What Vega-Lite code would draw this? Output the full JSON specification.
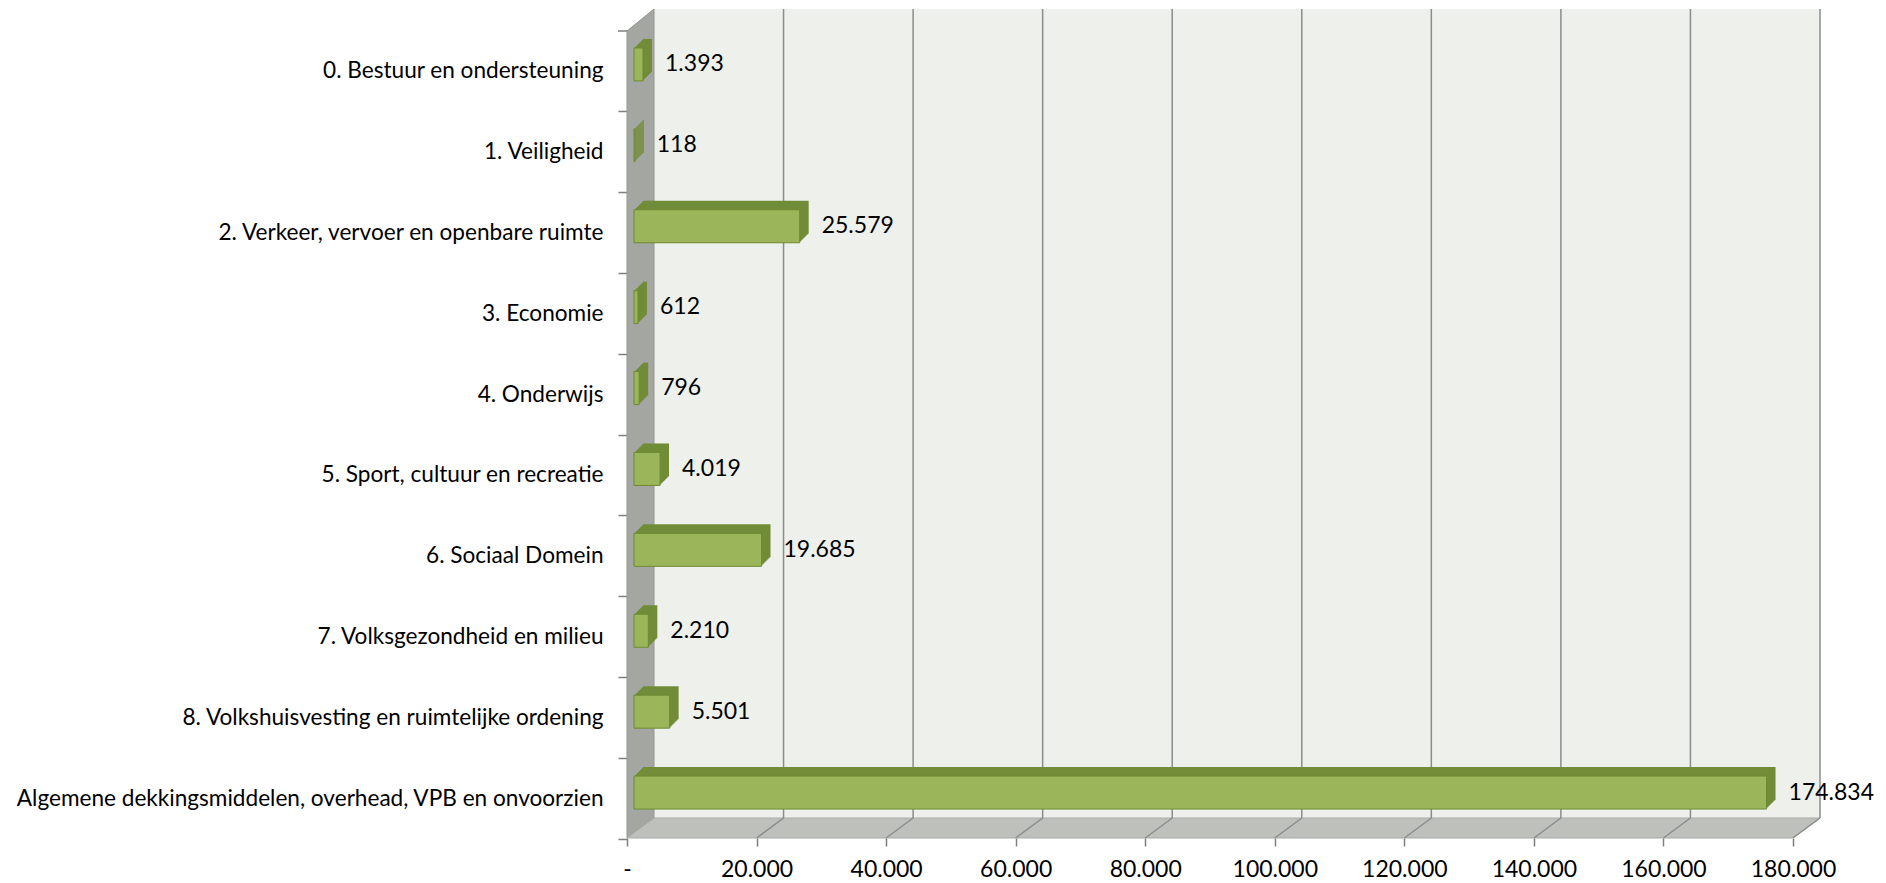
{
  "$schema": "https://vega.github.io/schema/vega-lite/v6.json",
  "width": 1166,
  "height": 809,
  "autosize": "none",
  "padding": {"left": 654, "top": 9, "right": 66, "bottom": 65},
  "background": "white",
  "config": {
    "locale": {"number": {"decimal": ",", "thousands": ".", "grouping": [3], "currency": ["€", ""]}},
    "view": {"fill": "#EEF1EB", "stroke": null},
    "font": "Lato",
    "axis": {"labelFont": "Lato", "labelColor": "#000000", "domain": false, "grid": false, "tickColor": "#7F7F7F", "tickWidth": 1.5}
  },
  "datasets": {
    "main": [
      {"cat": "0. Bestuur en ondersteuning", "value": 1393},
      {"cat": "1. Veiligheid", "value": 118},
      {"cat": "2. Verkeer, vervoer en openbare ruimte", "value": 25579},
      {"cat": "3. Economie", "value": 612},
      {"cat": "4. Onderwijs", "value": 796},
      {"cat": "5. Sport, cultuur en recreatie", "value": 4019},
      {"cat": "6. Sociaal Domein", "value": 19685},
      {"cat": "7. Volksgezondheid en milieu", "value": 2210},
      {"cat": "8. Volkshuisvesting en ruimtelijke ordening", "value": 5501},
      {"cat": "Algemene dekkingsmiddelen, overhead, VPB en onvoorzien", "value": 174834}
    ],
    "ticks": [
      {"v": 20000}, {"v": 40000}, {"v": 60000}, {"v": 80000}, {"v": 100000},
      {"v": 120000}, {"v": 140000}, {"v": 160000}, {"v": 180000}
    ],
    "one": [{"k": 1}]
  },
  "layer": [
    {
      "data": {"name": "one"},
      "mark": {"type": "point", "shape": "M-27,-382.5 L0,-404.5 L0,404.5 L-27,424.5 Z", "size": 4, "filled": true, "fill": "#A3A6A1", "stroke": "#939691", "strokeWidth": 1, "opacity": 1},
      "encoding": {"x": {"datum": 0, "type": "quantitative", "title": null}}
    },
    {
      "data": {"name": "one"},
      "mark": {"type": "point", "shape": "M-27,-382.5 L-36,-382.5", "size": 4, "filled": false, "stroke": "#7F7F7F", "strokeWidth": 1.5, "opacity": 1},
      "encoding": {"x": {"datum": 0, "type": "quantitative", "title": null}}
    },
    {
      "data": {"name": "one"},
      "mark": {"type": "point", "shape": "M0,404.5 L1166,404.5 L1138,424.5 L-27,424.5 Z", "size": 4, "filled": true, "fill": "#BEC0BC", "stroke": "#A9ABA7", "strokeWidth": 1, "opacity": 1},
      "encoding": {"x": {"datum": 0, "type": "quantitative", "title": null}}
    },
    {
      "data": {"name": "ticks"},
      "mark": {"type": "rule", "color": "#8C8C8C", "strokeWidth": 1.5},
      "encoding": {"x": {"field": "v", "type": "quantitative", "title": null}}
    },
    {
      "data": {"name": "ticks"},
      "mark": {"type": "point", "shape": "M0,404.5 L-27,424.5", "size": 4, "filled": false, "stroke": "#8C8C8C", "strokeWidth": 1.5, "opacity": 1},
      "encoding": {"x": {"field": "v", "type": "quantitative", "title": null}}
    },
    {
      "data": {"name": "main"},
      "encoding": {
        "x": {"field": "value", "type": "quantitative", "title": null,
          "scale": {"domain": [0, 180000], "nice": false},
          "axis": {"values": [0, 20000, 40000, 60000, 80000, 100000, 120000, 140000, 160000, 180000], "format": ",d", "labelExpr": "datum.value === 0 ? '-' : datum.label", "offset": 20, "tickOffset": -27, "tickSize": 8, "labelPadding": 12, "labelFontSize": 23, "labelFlush": false, "labelOverlap": false}},
        "y": {"field": "cat", "type": "nominal", "sort": null, "title": null,
          "scale": {"paddingInner": 0, "paddingOuter": 0},
          "axis": {"offset": 27, "tickOffset": 21, "bandPosition": 1, "tickSize": 9, "labelPadding": 15, "labelLimit": 800, "labelFontSize": 22.6}}
      },
      "layer": [
        {"mark": {"type": "bar", "size": 33, "color": "#728C38", "xOffset": -11, "x2Offset": -11, "yOffset": 6, "y2Offset": 6}},
        {"mark": {"type": "bar", "size": 33, "color": "#728C38", "xOffset": -12, "x2Offset": -12, "yOffset": 7, "y2Offset": 7}},
        {"mark": {"type": "bar", "size": 33, "color": "#728C38", "xOffset": -13, "x2Offset": -13, "yOffset": 8, "y2Offset": 8}},
        {"mark": {"type": "bar", "size": 33, "color": "#728C38", "xOffset": -14, "x2Offset": -14, "yOffset": 9, "y2Offset": 9}},
        {"mark": {"type": "bar", "size": 33, "color": "#728C38", "xOffset": -15, "x2Offset": -15, "yOffset": 10, "y2Offset": 10}},
        {"mark": {"type": "bar", "size": 33, "color": "#728C38", "xOffset": -16, "x2Offset": -16, "yOffset": 11, "y2Offset": 11}},
        {"mark": {"type": "bar", "size": 33, "color": "#728C38", "xOffset": -17, "x2Offset": -17, "yOffset": 12, "y2Offset": 12}},
        {"mark": {"type": "bar", "size": 33, "color": "#728C38", "xOffset": -18, "x2Offset": -18, "yOffset": 13, "y2Offset": 13}},
        {"mark": {"type": "bar", "size": 33, "color": "#728C38", "xOffset": -19, "x2Offset": -19, "yOffset": 14, "y2Offset": 14}},
        {"mark": {"type": "bar", "size": 33, "fill": "#9BB55B", "stroke": "#6E8A33", "strokeWidth": 1, "xOffset": -20, "x2Offset": -20, "yOffset": 15, "y2Offset": 15}},
        {"mark": {"type": "text", "align": "left", "baseline": "middle", "dx": 2, "dy": 15, "font": "Lato", "fontSize": 23, "color": "#000000"},
         "encoding": {"text": {"field": "value", "type": "quantitative", "format": ",d"}}}
      ]
    }
  ]
}
